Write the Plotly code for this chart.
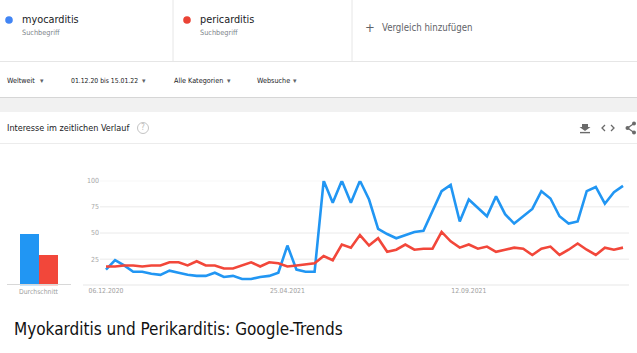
import plotly.graph_objects as go
import pandas as pd

W, H = 637, 353

# ---- data (weekly Google-Trends index) ----
week_start = "2020-12-06"
n_weeks = 58
myocarditis = [15, 24, 19, 13, 13, 11, 10, 14, 12, 10, 9, 9, 12, 8, 9, 6, 6, 8, 9, 12,
               38, 15, 13, 13, 100, 79, 100, 79, 100, 82, 54, 49, 45, 48, 51, 52, 71, 90, 96, 61,
               82, 74, 66, 85, 68, 59, 66, 73, 90, 83, 66, 59, 61, 90, 94, 78, 89, 95]
pericarditis = [18, 18, 19, 19, 18, 19, 19, 22, 22, 19, 23, 19, 19, 16, 16, 19, 22, 18, 22, 21,
                18, 19, 20, 21, 28, 24, 39, 36, 48, 38, 45, 32, 34, 39, 34, 35, 35, 51, 42, 36,
                39, 35, 37, 32, 34, 36, 35, 29, 35, 37, 29, 34, 40, 34, 29, 36, 34, 36]
averages = [49, 29]
terms = ["myocarditis", "pericarditis"]
y_ticks = [25, 50, 75, 100]
x_tick_dates = ["2020-12-06", "2021-04-25", "2021-09-12"]
x_tick_text = ["06.12.2020", "25.04.2021", "12.09.2021"]

dates = pd.date_range(week_start, periods=n_weeks, freq="7D")

BLUE = "#2196F3"
RED = "#F2473A"
NARROW = "Liberation Sans Narrow, DejaVu Sans Condensed, Roboto, Arial, sans-serif"


def px(x):
    return x / W


def py(y):
    return 1 - y / H


fig = go.Figure()
fig.add_trace(go.Scatter(x=dates, y=myocarditis, mode="lines", line=dict(color=BLUE, width=2.6),
                         xaxis="x", yaxis="y", showlegend=False, hoverinfo="skip"))
fig.add_trace(go.Scatter(x=dates, y=pericarditis, mode="lines", line=dict(color=RED, width=2.6),
                         xaxis="x", yaxis="y", showlegend=False, hoverinfo="skip"))
fig.add_trace(go.Bar(x=[0, 1], y=averages, width=1, marker=dict(color=[BLUE, RED], line=dict(width=0)),
                     xaxis="x2", yaxis="y2", showlegend=False, hoverinfo="skip"))

ydom = [py(285.3), py(180.7)]
shapes = []
# gray band between filter row and card
shapes.append(dict(type="rect", xref="paper", yref="paper", x0=0, x1=1, y0=py(112), y1=py(97.5),
                   fillcolor="#f1f1f1", line=dict(width=0), layer="below"))
shapes.append(dict(type="line", xref="paper", yref="paper", x0=0, x1=1, y0=py(97.5), y1=py(97.5),
                   line=dict(color="#d6d6d6", width=1.2)))
# header dividers
for xv in [173, 352]:
    shapes.append(dict(type="line", xref="paper", yref="paper", x0=px(xv), x1=px(xv), y0=py(0), y1=py(61),
                       line=dict(color="#e6e6e6", width=1)))
shapes.append(dict(type="line", xref="paper", yref="paper", x0=0, x1=1, y0=py(61.5), y1=py(61.5),
                   line=dict(color="#e6e6e6", width=1)))
# card title divider
shapes.append(dict(type="line", xref="paper", yref="paper", x0=0, x1=1, y0=py(143.5), y1=py(143.5),
                   line=dict(color="#ececec", width=1)))
# legend dots
for xc, col in [(9, "#4285F4"), (187, "#EA4335")]:
    shapes.append(dict(type="circle", xref="paper", yref="paper", x0=px(xc - 3.8), x1=px(xc + 3.8),
                       y0=py(20 + 3.8), y1=py(20 - 3.8), fillcolor=col, line=dict(width=0)))
# gridlines
for v in y_ticks:
    shapes.append(dict(type="line", xref="paper", yref="y", x0=px(100), x1=px(629), y0=v, y1=v,
                       line=dict(color="#eaeaea", width=1), layer="below"))
shapes.append(dict(type="line", xref="paper", yref="y", x0=px(83), x1=px(629), y0=0, y1=0,
                   line=dict(color="#d0d0d0", width=1.2), layer="below"))
# bar baseline
shapes.append(dict(type="line", xref="paper", yref="paper", x0=px(7), x1=px(71), y0=py(284.5), y1=py(284.5),
                   line=dict(color="#d8d8d8", width=1.2)))
# help circle
shapes.append(dict(type="circle", xref="paper", yref="paper", x0=px(137.5), x1=px(148.5),
                   y0=py(133.5), y1=py(122.5), line=dict(color="#c4c4c4", width=1)))
# download icon
shapes.append(dict(type="path", xref="paper", yref="paper",
                   path=f"M {px(582)} {py(124)} L {px(588)} {py(124)} L {px(588)} {py(127)} L {px(590.5)} {py(127)} "
                        f"L {px(585)} {py(131)} L {px(579.5)} {py(127)} L {px(582)} {py(127)} Z",
                   fillcolor="#6a6a6a", line=dict(width=0)))
shapes.append(dict(type="line", xref="paper", yref="paper", x0=px(580), x1=px(590), y0=py(132.6), y1=py(132.6),
                   line=dict(color="#6a6a6a", width=1.4)))
# embed icon < >
shapes.append(dict(type="path", xref="paper", yref="paper",
                   path=f"M {px(605)} {py(125)} L {px(602)} {py(128)} L {px(605)} {py(131)}",
                   line=dict(color="#6a6a6a", width=1.3)))
shapes.append(dict(type="path", xref="paper", yref="paper",
                   path=f"M {px(611)} {py(125)} L {px(614)} {py(128)} L {px(611)} {py(131)}",
                   line=dict(color="#6a6a6a", width=1.3)))
# share icon
shapes.append(dict(type="path", xref="paper", yref="paper",
                   path=f"M {px(634)} {py(123.5)} L {px(627.5)} {py(128)} L {px(634)} {py(132.5)}",
                   line=dict(color="#6a6a6a", width=1.2)))
for cx, cy in [(634, 123.5), (627.5, 128), (634, 132.5)]:
    shapes.append(dict(type="circle", xref="paper", yref="paper", x0=px(cx - 2), x1=px(cx + 2),
                       y0=py(cy + 2), y1=py(cy - 2), fillcolor="#6a6a6a", line=dict(width=0)))

ann = []


def text(x, y, s, size, color, anchor="left", family=NARROW):
    ann.append(dict(x=px(x), y=py(y), xref="paper", yref="paper", text=s, showarrow=False,
                    xanchor=anchor, yanchor="middle", borderpad=0, font=dict(size=size, color=color, family=family)))


text(21, 19.5, terms[0], 10.8, "#202124")
text(21, 33, "Suchbegriff", 7.3, "#80868b")
text(199, 19.5, terms[1], 10.8, "#202124")
text(199, 33, "Suchbegriff", 7.3, "#80868b")
text(364, 27, "+", 13, "#5f6368")
text(381, 27, "Vergleich hinzufügen", 9.6, "#5f6368")
for x0, s, xa, fs in [(6, "Weltweit", 42, 7.2), (70, "01.12.20 bis 15.01.22", 144, 6.8),
                      (173, "Alle Kategorien", 229, 7.2), (256, "Websuche", 295, 7.2)]:
    text(x0, 81, s, fs, "#202124")
    text(xa, 81, "▾", 7, "#5f6368", anchor="center", family="DejaVu Sans")
text(6, 127.7, "Interesse im zeitlichen Verlauf", 9.0, "#202124")
text(143, 128, "?", 8, "#b8b8b8", anchor="center")
text(39, 291.5, "Durchschnitt", 6.8, "#9e9e9e", anchor="center")
text(13, 329, "Myokarditis und Perikarditis: Google-Trends", 17, "#111111",
     family="Liberation Sans Narrow, DejaVu Sans Condensed, Open Sans, sans-serif")

fig.update_layout(
    width=W, height=H, margin=dict(l=0, r=0, t=0, b=0, autoexpand=False),
    paper_bgcolor="white", plot_bgcolor="rgba(0,0,0,0)",
    shapes=shapes, annotations=ann,
    xaxis=dict(domain=[px(100), px(629)], range=["2020-12-01 09:00", "2022-01-13 15:00"],
               showgrid=False, zeroline=False, showline=False, ticks="", automargin=False,
               tickvals=x_tick_dates, ticktext=x_tick_text,
               tickfont=dict(size=6.8, color="#9e9e9e", family=NARROW)),
    yaxis=dict(domain=ydom, range=[0, 100], showgrid=False, zeroline=False, showline=False, ticks="",
               automargin=False,
               tickvals=y_ticks, tickfont=dict(size=7, color="#a8a8a8", family=NARROW)),
    xaxis2=dict(domain=[px(8), px(70)], range=[-1.13, 2.13], visible=False, anchor="y2", automargin=False),
    yaxis2=dict(domain=ydom, range=[0, 100], visible=False, anchor="x2", automargin=False),
    bargap=0,
)

fig.write_html("out.html")
